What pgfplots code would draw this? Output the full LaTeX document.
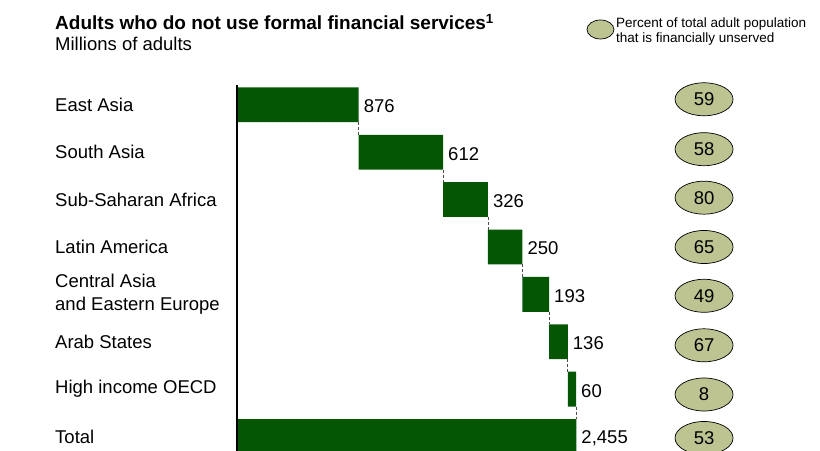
\documentclass[border=0pt]{standalone}
\usepackage{fontspec}
\setmainfont{Liberation Sans}
\usepackage{pgfplots}
\usepackage{pgfplotstable}
\pgfplotsset{compat=1.18}
\usetikzlibrary{shapes.geometric}
\definecolor{bargreen}{RGB}{4,86,4}
\definecolor{ellgreen}{RGB}{189,196,145}

% waterfall: invisible base + visible value; end = base + value
\pgfplotstableread{
y base val end label
0 0 876 876 876
-1 876 612 1488 612
-2 1488 326 1814 326
-3 1814 250 2064 250
-4 2064 193 2257 193
-5 2257 136 2393 136
-6 2393 60 2453 60
-7 0 2455 2455 2,455
}\bars

\pgfplotstableread{
x y p
3382 0.116 59
3382 -0.937 58
3382 -1.960 80
3382 -3.001 65
3382 -4.030 49
3382 -5.075 67
3382 -6.113 8
3382 -7.031 53
}\shares

\pgfplotsset{
  common/.style={
    scale only axis,
    width=820pt, height=451pt,
    xmin=-1727, xmax=4223.5,
    ymin=-7.305, ymax=2.211,
    axis line style={draw=none},
    major tick style={draw=none},
    xtick=\empty,
  }
}

\begin{document}
\begin{tikzpicture}
\begin{axis}[common,
  xbar stacked,
  bar width=0.735,
  ytick=\empty,
]
\addplot[fill=none, draw=none] table[x=base, y=y] {\bars};
\addplot[fill=bargreen, draw=none] table[x=val, y=y] {\bars};
\end{axis}

\begin{axis}[common,
  ytick={0,-1,-2,-3,-4,-5,-6,-7},
  yticklabels={East Asia, South Asia, Sub-Saharan Africa, Latin America, {Central Asia\\and Eastern Europe}, Arab States, High income OECD, Total},
  yticklabel style={anchor=west, align=left, inner sep=0pt, xshift=55pt, font=\fontsize{18.5}{23}\selectfont},
  clip=false,
]
% value labels at the end of each bar
\addplot[only marks, mark=none,
  nodes near coords, point meta=explicit symbolic,
  nodes near coords style={anchor=west, inner sep=0pt, xshift=5pt, yshift=-1.5pt, text=black, font=\fontsize{18.5}{22}\selectfont}]
  table[x=end, y=y, meta=label] {\bars};

% connectors
\addplot[sharp plot, no marks, densely dashed, line width=0.6pt, black!70, unbounded coords=jump]
coordinates {
(876,-0.3675) (876,-0.6325)
(nan,nan)
(1488,-1.3675) (1488,-1.6325)
(nan,nan)
(1814,-2.3675) (1814,-2.6325)
(nan,nan)
(2064,-3.3675) (2064,-3.6325)
(nan,nan)
(2257,-4.3675) (2257,-4.6325)
(nan,nan)
(2393,-5.3675) (2393,-5.6325)
(nan,nan)
(2453,-6.3675) (2453,-6.6325)
};

% category axis line
\addplot[sharp plot, no marks, line width=2pt, black]
coordinates {(-7,0.42) (-7,-7.305)};

% percent unserved
\addplot[only marks, mark=none,
  nodes near coords, point meta=explicit symbolic,
  nodes near coords style={ellipse, draw=black, line width=0.7pt, fill=ellgreen, minimum width=58pt, minimum height=33pt, inner sep=0pt, anchor=center, text=black, font=\fontsize{18.5}{22}\selectfont}]
  table[x=x, y=y, meta=p] {\shares};

\node[anchor=base west, inner sep=0pt, font=\fontsize{19}{23}\selectfont\bfseries] at (rel axis cs:0.0671,0.9346) {Adults who do not use formal financial services\textsuperscript{1}};
\node[anchor=base west, inner sep=0pt, font=\fontsize{18.5}{23}\selectfont] at (rel axis cs:0.0671,0.889) {Millions of adults};

\node[ellipse, draw=black, line width=0.7pt, fill=ellgreen, minimum width=27pt, minimum height=19pt, inner sep=0pt] at (rel axis cs:0.7323,0.9346) {};
\node[anchor=base west, inner sep=0pt, font=\fontsize{13.5}{16}\selectfont] at (rel axis cs:0.7512,0.9379) {Percent of total adult population};
\node[anchor=base west, inner sep=0pt, font=\fontsize{13.5}{16}\selectfont] at (rel axis cs:0.7512,0.9047) {that is financially unserved};
\end{axis}
\pgfresetboundingbox
\path (current axis.south west) rectangle (current axis.north east);
\end{tikzpicture}
\end{document}
